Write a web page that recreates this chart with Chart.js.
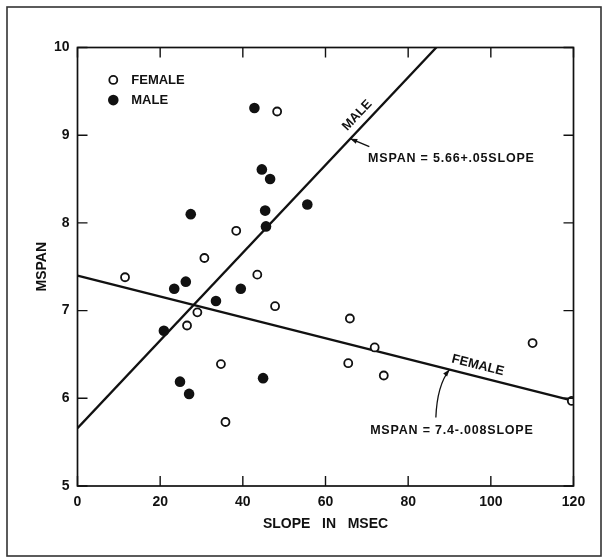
<!DOCTYPE html>
<html><head><meta charset="utf-8">
<script src="https://cdn.jsdelivr.net/npm/chart.js@4/dist/chart.umd.min.js"></script>
<style>html,body{margin:0;padding:0;background:#fff}canvas{display:block}</style>
</head><body>
<canvas id="c" width="607" height="560"></canvas>
<script>
// ---- data ----
const femaleSlope = [11.5, 48.3, 38.4, 30.7, 43.5, 47.8, 29.0, 26.5, 34.7, 35.8, 65.9, 71.9, 65.5, 74.1, 110.1, 119.6];
const femaleMspan = [7.38, 9.27, 7.91, 7.60, 7.41, 7.05, 6.98, 6.83, 6.39, 5.73, 6.91, 6.58, 6.40, 6.26, 6.63, 5.97];
const maleSlope = [42.8, 44.6, 46.6, 45.4, 45.6, 27.4, 55.6, 26.2, 23.4, 39.5, 33.5, 20.9, 24.8, 27.0, 44.9];
const maleMspan = [9.31, 8.61, 8.50, 8.14, 7.96, 8.10, 8.21, 7.33, 7.25, 7.25, 7.11, 6.77, 6.19, 6.05, 6.23];
const maleFitX = [0, 120];
const maleFitY = [5.66, 11.66];
const femaleFitX = [0, 120];
const femaleFitY = [7.40, 5.97];
const xTicks = [0, 20, 40, 60, 80, 100, 120];
const yTicks = [5, 6, 7, 8, 9, 10];
const xTitle = 'SLOPE   IN   MSEC';
const yTitle = 'MSPAN';
const legendLabels = ['FEMALE', 'MALE'];
const lineLabels = ['MALE', 'FEMALE'];
const maleEquation = 'MSPAN = 5.66+.05SLOPE';
const femaleEquation = 'MSPAN = 7.4-.008SLOPE';

const INK = '#111';
const FONT = '"Liberation Sans", Arial, sans-serif';

const pts = (xs, ys) => xs.map((x, i) => ({x, y: ys[i]}));

function lineY(xs, ys, x) {
  return ys[0] + (ys[1] - ys[0]) * (x - xs[0]) / (xs[1] - xs[0]);
}

function arrowHead(ctx, tipX, tipY, fromX, fromY, len, half) {
  const a = Math.atan2(tipY - fromY, tipX - fromX);
  ctx.beginPath();
  ctx.moveTo(tipX, tipY);
  ctx.lineTo(tipX - len * Math.cos(a) + half * Math.sin(a), tipY - len * Math.sin(a) - half * Math.cos(a));
  ctx.lineTo(tipX - len * Math.cos(a) - half * Math.sin(a), tipY - len * Math.sin(a) + half * Math.cos(a));
  ctx.closePath();
  ctx.fill();
}

const decor = {
  id: 'decor',
  afterDatasetsDraw(chart) {
    const {ctx, chartArea: a, scales: {x, y}} = chart;
    const px = v => x.getPixelForValue(v), py = v => y.getPixelForValue(v);
    ctx.save();
    ctx.strokeStyle = INK; ctx.fillStyle = INK;
    // plot frame
    ctx.lineWidth = 1.7;
    ctx.strokeRect(a.left, a.top, a.right - a.left, a.bottom - a.top);
    // inward tick marks on all four sides
    ctx.lineWidth = 1.4;
    const tl = 10;
    ctx.beginPath();
    x.ticks.forEach(t => {
      const X = px(t.value);
      ctx.moveTo(X, a.bottom); ctx.lineTo(X, a.bottom - tl);
      ctx.moveTo(X, a.top); ctx.lineTo(X, a.top + tl);
    });
    y.ticks.forEach(t => {
      const Y = py(t.value);
      ctx.moveTo(a.left, Y); ctx.lineTo(a.left + tl, Y);
      ctx.moveTo(a.right, Y); ctx.lineTo(a.right - tl, Y);
    });
    ctx.stroke();

    // legend (inside the plot)
    ctx.font = 'bold 13px ' + FONT;
    ctx.textBaseline = 'middle'; ctx.textAlign = 'left';
    const lx = px(8.66), ly1 = py(9.63), ly2 = py(9.40);
    ctx.lineWidth = 1.8;
    ctx.fillStyle = '#fff';
    ctx.beginPath(); ctx.arc(lx, ly1, 4, 0, Math.PI * 2); ctx.fill(); ctx.stroke();
    ctx.fillStyle = INK;
    ctx.beginPath(); ctx.arc(lx, ly2, 5.3, 0, Math.PI * 2); ctx.fill();
    ctx.fillText(legendLabels[0], lx + 18, ly1 + 0.5);
    ctx.fillText(legendLabels[1], lx + 18, ly2 + 0.5);

    // labels along the fit lines
    function lineLabel(text, xd, fx, fy, off) {
      const ang = Math.atan2(py(fy[1]) - py(fy[0]), px(fx[1]) - px(fx[0]));
      const X = px(xd), Y = py(lineY(fx, fy, xd));
      ctx.save();
      ctx.translate(X, Y); ctx.rotate(ang);
      ctx.textAlign = 'center'; ctx.textBaseline = 'middle';
      ctx.fillText(text, 0, -off);
      ctx.restore();
    }
    ctx.font = 'bold 13px ' + FONT;
    lineLabel(lineLabels[0], 69.6, maleFitX, maleFitY, 11);
    lineLabel(lineLabels[1], 96.2, femaleFitX, femaleFitY, 11);

    // equations
    ctx.font = 'bold 12.5px ' + FONT;
    ctx.textAlign = 'left'; ctx.textBaseline = 'middle';
    if ('letterSpacing' in ctx) ctx.letterSpacing = '0.8px';
    ctx.fillText(maleEquation, px(70.3), py(8.73));
    ctx.fillText(femaleEquation, px(70.8), py(5.63));
    if ('letterSpacing' in ctx) ctx.letterSpacing = '0px';

    // male arrow (straight)
    ctx.lineWidth = 1.3;
    const m0 = [px(70.6), py(8.87)], mt = [px(66.0), py(lineY(maleFitX, maleFitY, 66.0))];
    ctx.beginPath(); ctx.moveTo(m0[0], m0[1]); ctx.lineTo(mt[0], mt[1]); ctx.stroke();
    arrowHead(ctx, mt[0], mt[1], m0[0], m0[1], 7, 2.5);
    // female arrow (curved)
    const f0 = [px(86.7), py(5.78)], fc = [px(87.0), py(6.15)], ft = [px(90.0), py(lineY(femaleFitX, femaleFitY, 90.0))];
    ctx.beginPath(); ctx.moveTo(f0[0], f0[1]); ctx.quadraticCurveTo(fc[0], fc[1], ft[0], ft[1]); ctx.stroke();
    arrowHead(ctx, ft[0], ft[1], fc[0], fc[1], 7, 2.5);

    // outer figure frame
    ctx.strokeStyle = '#333'; ctx.lineWidth = 1.6;
    ctx.strokeRect(7, 7, chart.width - 13, chart.height - 11);
    ctx.restore();
  }
};

new Chart(document.getElementById('c'), {
  type: 'scatter',
  data: {
    datasets: [
      { label: 'MALE FIT', type: 'line', data: pts(maleFitX, maleFitY), borderColor: INK, borderWidth: 2.3,
        pointRadius: 0, fill: false, tension: 0, clip: 0, order: 3 },
      { label: 'FEMALE FIT', type: 'line', data: pts(femaleFitX, femaleFitY), borderColor: INK, borderWidth: 2.3,
        pointRadius: 0, fill: false, tension: 0, clip: 0, order: 3 },
      { label: 'FEMALE', data: pts(femaleSlope, femaleMspan), pointRadius: 4, pointBorderWidth: 1.8,
        pointBackgroundColor: '#fff', pointBorderColor: INK, clip: {left: 10, top: 10, right: 0, bottom: 10}, order: 1 },
      { label: 'MALE', data: pts(maleSlope, maleMspan), pointRadius: 5.3, pointBorderWidth: 0,
        pointBackgroundColor: INK, pointBorderColor: INK, clip: {left: 10, top: 10, right: 0, bottom: 10}, order: 1 }
    ]
  },
  options: {
    responsive: false,
    animation: false,
    layout: { padding: { left: 0, top: 47.5, right: 33.5, bottom: 0 } },
    plugins: { legend: { display: false }, tooltip: { enabled: false } },
    scales: {
      x: {
        type: 'linear', min: 0, max: 120,
        afterBuildTicks: s => { s.ticks = xTicks.map(v => ({value: v})); },
        afterFit: s => { s.height = 74; },
        grid: { display: false, drawTicks: false },
        border: { display: false },
        ticks: { color: INK, padding: 8, font: { family: FONT, size: 14, weight: 'bold' } },
        title: { display: true, text: xTitle, color: INK, padding: { top: 0, bottom: 27.6 },
                 font: { family: FONT, size: 14, weight: 'bold' } }
      },
      y: {
        type: 'linear', min: 5, max: 10,
        afterBuildTicks: s => { s.ticks = yTicks.map(v => ({value: v})); },
        afterFit: s => { s.width = 77.5; },
        grid: { display: false, drawTicks: false },
        border: { display: false },
        ticks: { color: INK, padding: 8, font: { family: FONT, size: 14, weight: 'bold' } },
        title: { display: true, text: yTitle, color: INK, padding: { top: 33.3, bottom: 0 },
                 font: { family: FONT, size: 14, weight: 'bold' } }
      }
    }
  },
  plugins: [decor]
});
</script>
</body></html>
